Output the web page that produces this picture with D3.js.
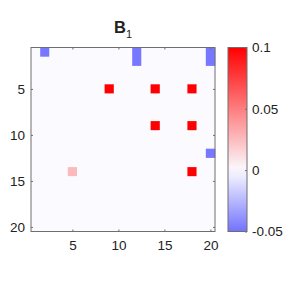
<!DOCTYPE html>
<html>
<head>
<meta charset="utf-8">
<script src="https://cdn.jsdelivr.net/npm/d3@7"></script>
<style>
  body { margin: 0; background: #fff; }
  text { font-family: "Liberation Sans", Arial, sans-serif; fill: #222; }
</style>
</head>
<body>
<div id="canvas"></div>
<script>
// matrix is 20x20, mostly zero; only the non-zero cells are listed
var nRows = 20, nCols = 20;
var cellRows = [1, 1, 2, 1, 2, 5, 5, 5, 9, 9, 12, 14, 14];
var cellCols = [2, 12, 12, 20, 20, 9, 14, 18, 14, 18, 20, 5, 18];
var cellVals = [-0.048, -0.048, -0.048, -0.048, -0.048, 0.1, 0.1, 0.1, 0.1, 0.1, -0.048, 0.026, 0.1];
var axisTicks = [5, 10, 15, 20];
var cbarTicks = [-0.05, 0, 0.05, 0.1];
var cbarLabels = ["-0.05", "0", "0.05", "0.1"];

var width = 291, height = 291;
var plot = {left: 31, top: 47.5, size: 184};
var cbar = {left: 228, width: 19};
var fontSize = 13.5;

var svg = d3.select("#canvas").append("svg")
  .attr("width", width)
  .attr("height", height);

var x = d3.scaleLinear().domain([0.5, nCols + 0.5]).range([plot.left, plot.left + plot.size]);
var y = d3.scaleLinear().domain([0.5, nRows + 0.5]).range([plot.top, plot.top + plot.size]);
var color = d3.scaleLinear()
  .domain([-0.05, 0, 0.1])
  .range(["#7272ff", "#fbfbff", "#ff0000"])
  .clamp(true);

// build full grid
var grid = [];
for (var r = 1; r <= nRows; r++) {
  for (var c = 1; c <= nCols; c++) grid.push({r: r, c: c, v: 0});
}
cellRows.forEach(function(r, i) {
  grid[(r - 1) * nCols + (cellCols[i] - 1)].v = cellVals[i];
});

svg.append("g").selectAll("rect")
  .data(grid)
  .enter().append("rect")
    .attr("x", function(d) { return x(d.c - 0.5); })
    .attr("y", function(d) { return y(d.r - 0.5); })
    .attr("width", x(1.5) - x(0.5) + 0.3)
    .attr("height", y(1.5) - y(0.5) + 0.3)
    .attr("fill", function(d) { return color(d.v); });

// axes, ticks inside, box on all sides
var axisColor = "#6e6e6e";
function tickAxis(axis, tr) {
  var g = svg.append("g").attr("transform", tr).call(axis);
  g.select(".domain").remove();
  g.selectAll("line").attr("stroke", axisColor);
  g.selectAll("text").attr("font-size", fontSize).attr("fill", "#262626")
    .attr("font-family", "'Liberation Sans', Arial, sans-serif");
  return g;
}
tickAxis(d3.axisBottom(x).tickValues(axisTicks).tickSize(-2).tickPadding(9), "translate(0," + (plot.top + plot.size) + ")");
tickAxis(d3.axisTop(x).tickValues(axisTicks).tickSize(-2).tickFormat(""), "translate(0," + plot.top + ")");
tickAxis(d3.axisLeft(y).tickValues(axisTicks).tickSize(-2).tickPadding(6), "translate(" + plot.left + ",0)");
tickAxis(d3.axisRight(y).tickValues(axisTicks).tickSize(-2).tickFormat(""), "translate(" + (plot.left + plot.size) + ",0)");

svg.append("rect")
  .attr("x", plot.left).attr("y", plot.top)
  .attr("width", plot.size).attr("height", plot.size)
  .attr("fill", "none").attr("stroke", axisColor).attr("stroke-width", 1);

// title
var title = svg.append("text")
  .attr("x", plot.left + plot.size / 2)
  .attr("y", 33)
  .attr("text-anchor", "middle")
  .attr("font-size", 16.5)
  .attr("font-weight", "bold")
  .attr("fill", "#000");
title.append("tspan").text("B");
title.append("tspan").attr("font-size", 11).attr("font-weight", "normal").attr("dy", 5).text("1");

// colorbar
var cy = d3.scaleLinear().domain([-0.05, 0.1]).range([plot.top + plot.size, plot.top]);
var grad = svg.append("defs").append("linearGradient")
  .attr("id", "cbgrad")
  .attr("x1", 0).attr("y1", 1).attr("x2", 0).attr("y2", 0);
d3.range(0, 1.0001, 0.05).forEach(function(t) {
  grad.append("stop")
    .attr("offset", t)
    .attr("stop-color", color(-0.05 + t * 0.15));
});
svg.append("rect")
  .attr("x", cbar.left).attr("y", plot.top)
  .attr("width", cbar.width).attr("height", plot.size)
  .attr("fill", "url(#cbgrad)")
  .attr("stroke", axisColor).attr("stroke-width", 1);

var cg = svg.append("g")
  .attr("transform", "translate(" + (cbar.left + cbar.width) + ",0)")
  .call(d3.axisRight(cy).tickValues(cbarTicks).tickSize(-2).tickPadding(5)
    .tickFormat(function(d, i) { return cbarLabels[i]; }));
cg.select(".domain").remove();
cg.selectAll("line").attr("stroke", axisColor);
cg.selectAll("text").attr("font-size", fontSize).attr("fill", "#262626")
  .attr("font-family", "'Liberation Sans', Arial, sans-serif");
</script>
</body>
</html>
